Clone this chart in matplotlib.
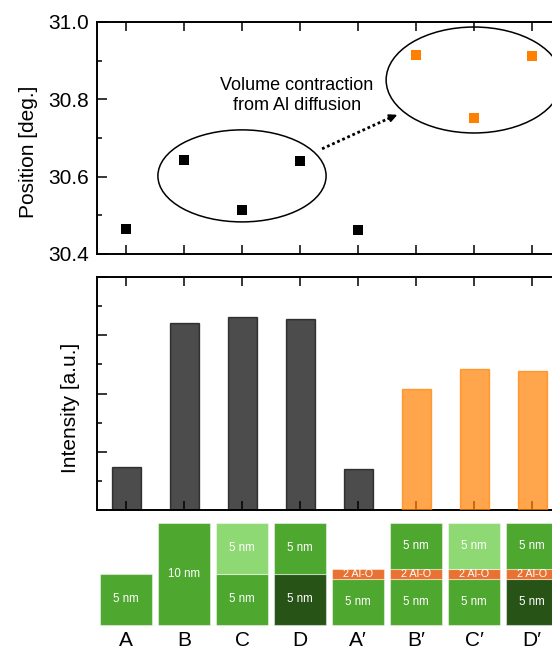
import matplotlib.pyplot as plt
from matplotlib.patches import Ellipse, Rectangle
from matplotlib.ticker import MultipleLocator

plt.rcParams["font.family"] = ["Liberation Sans", "DejaVu Sans"]

# ---------------- data ----------------
samples = ["A", "B", "C", "D", "A\u2032", "B\u2032", "C\u2032", "D\u2032"]
position = [30.465, 30.643, 30.514, 30.640, 30.462, 30.915, 30.752, 30.912]
intensity = [1.48, 6.43, 6.62, 6.56, 1.41, 4.16, 4.85, 4.78]
contracted = [False, False, False, False, False, True, True, True]

GREEN = "#4EA72E"
LIGHT = "#8ED973"
DARK = "#275317"
ALO = "#E97132"

# layer stacks, bottom to top: (label, drawn thickness, colour)
stacks = [
    [("5 nm", 5, GREEN)],
    [("10 nm", 10, GREEN)],
    [("5 nm", 5, GREEN), ("5 nm", 5, LIGHT)],
    [("5 nm", 5, DARK), ("5 nm", 5, GREEN)],
    [("5 nm", 4.5, GREEN), ("2 Al-O", 1, ALO)],
    [("5 nm", 4.5, GREEN), ("2 Al-O", 1, ALO), ("5 nm", 4.5, GREEN)],
    [("5 nm", 4.5, GREEN), ("2 Al-O", 1, ALO), ("5 nm", 4.5, LIGHT)],
    [("5 nm", 4.5, DARK), ("2 Al-O", 1, ALO), ("5 nm", 4.5, GREEN)],
]

x = list(range(len(samples)))
colors = ["#FF8000" if c else "black" for c in contracted]

W, H = 552, 651
fig = plt.figure(figsize=(W / 100, H / 100), dpi=100)
left = 97 / W
width = 464 / W


def style_axes(ax):
    for s in ax.spines.values():
        s.set_linewidth(1.4)
    ax.set_xlim(-0.5, 7.5)
    ax.set_xticks(x)
    ax.tick_params(axis="x", which="both", direction="in", top=True,
                   length=6.5, width=1.1, labelbottom=False)
    ax.tick_params(axis="y", which="major", direction="in", length=7.5, width=1.1)
    ax.tick_params(axis="y", which="minor", direction="in", length=3.8, width=1.1)


# ---------------- peak position ----------------
ax1 = fig.add_axes([left, 1 - 254 / H, width, 232 / H])
style_axes(ax1)
ax1.set_ylim(30.4, 31.0)
ax1.yaxis.set_major_locator(MultipleLocator(0.2))
ax1.yaxis.set_minor_locator(MultipleLocator(0.1))
ax1.yaxis.set_major_formatter(lambda v, p: f"{v:.1f}")
ax1.tick_params(axis="y", labelsize=15, pad=6)
ax1.set_ylabel("Position [deg.]", fontsize=15)
ax1.yaxis.set_label_coords(-0.127, 0.44)

for xi, yi, c in zip(x, position, colors):
    ax1.plot(xi, yi, "s", color=c, markersize=7, markeredgewidth=0, zorder=3)

ax1.add_patch(Ellipse((2, 30.602), 2.9, 0.238, fill=False, lw=1.1, color="black"))
ax1.add_patch(Ellipse((6, 30.85), 3.03, 0.274, fill=False, lw=1.1, color="black",
                      clip_on=False))
ax1.text(2.95, 30.81, "Volume contraction\nfrom Al diffusion", ha="center",
         va="center", fontsize=13, linespacing=1.2)

# dotted arrow between the two groups
ax1.plot([3.38, 4.55], [30.672, 30.752], color="black", lw=2.0,
         linestyle=(0, (1, 1)), solid_capstyle="butt")
ax1.annotate("", xy=(4.68, 30.760), xytext=(4.52, 30.750),
             arrowprops=dict(arrowstyle="-|>,head_length=0.45,head_width=0.22",
                             color="black", lw=1.5, shrinkA=0, shrinkB=0))

# ---------------- intensity ----------------
ax2 = fig.add_axes([left, 1 - 510 / H, width, 233 / H])
style_axes(ax2)
ax2.set_ylim(0, 8)
ax2.yaxis.set_major_locator(MultipleLocator(2))
ax2.yaxis.set_minor_locator(MultipleLocator(1))
ax2.tick_params(axis="y", labelleft=False)
ax2.set_ylabel("Intensity [a.u.]", fontsize=15)
ax2.yaxis.set_label_coords(-0.037, 0.44)
ax2.bar(x, intensity, width=0.5, color=colors, alpha=0.7, edgecolor=colors,
        linewidth=1.0, zorder=3)

# ---------------- layer stacks ----------------
ax3 = fig.add_axes([left, 0, width, 141 / H])
ax3.set_xlim(-0.5, 7.5)
ax3.set_ylim(-2.55, 11.27)
ax3.axis("off")
bw = 0.88
for xi, stack, name in zip(x, stacks, samples):
    base = 0
    for label, t, c in stack:
        ax3.add_patch(Rectangle((xi - bw / 2, base), bw, t, facecolor=c,
                                edgecolor=(1, 1, 1, 0.45), linewidth=0.8))
        fs = 7.8 if "Al" in label else 8.3
        ax3.text(xi, base + t / 2, label, ha="center", va="center",
                 color="white", fontsize=fs)
        base += t
    ax3.text(xi, -2.1, name, ha="center", va="baseline", fontsize=15,
             clip_on=False)

fig.savefig("out.png", dpi=100)
